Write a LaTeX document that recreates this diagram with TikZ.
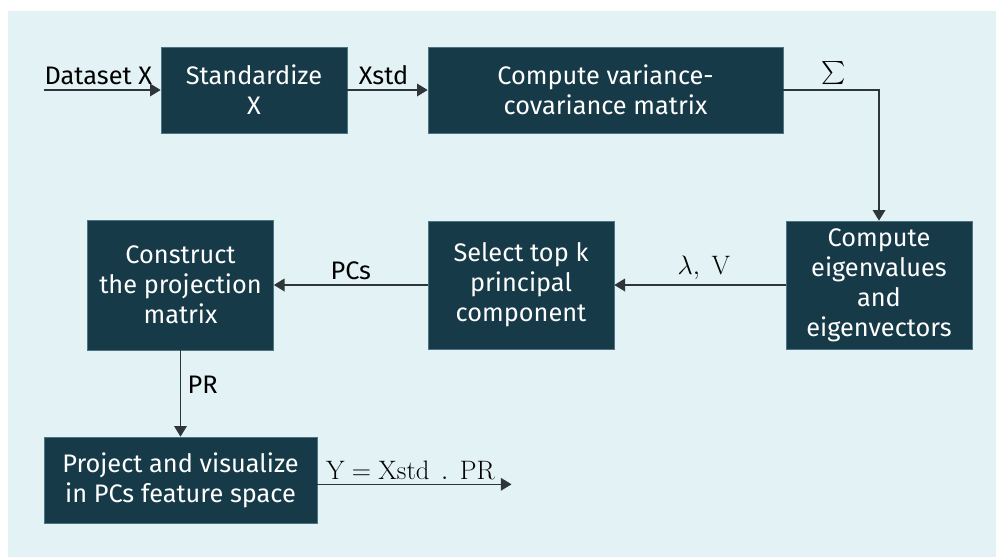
\documentclass[tikz,border=0pt]{standalone}
\usepackage{fix-cm}
\usepackage{exscale}
\usepackage[no-math]{fontspec}
\setmainfont{Fira Sans}
\usetikzlibrary{arrows.meta}
\definecolor{pagebg}{HTML}{E3F2F4}
\definecolor{boxfill}{HTML}{163A48}
\definecolor{boxedge}{HTML}{4D7482}
\definecolor{linec}{HTML}{2E3639}
\tikzset{
  stepbox/.style={fill=boxfill, draw=boxedge, line width=0.5pt, text=white,
    align=center, inner sep=0pt, font=\fontsize{19}{22.5}\selectfont},
  flow/.style={draw=linec, line width=1pt, -{Triangle[length=8pt,width=9.5pt]}},
  lbl/.style={font=\fontsize{19}{22.5}\selectfont, text=black},
  mathlbl/.style={font=\fontsize{20}{24}\selectfont, text=black}
}
\begin{document}
\begin{tikzpicture}[x=0.75pt, y=-0.75pt]
  \useasboundingbox (0,0) rectangle (996,557);
  \fill[pagebg] (8,11) rectangle (996,557);

  % processing steps
  \node[stepbox, minimum width=139.5pt, minimum height=64.5pt] (std) at (254,90)
    {Standardize\\X};
  \node[stepbox, minimum width=266.25pt, minimum height=64.5pt] (cov) at (605.5,90)
    {Compute variance-\\covariance matrix};
  \node[stepbox, minimum width=139.5pt, minimum height=96pt] (eig) at (879,285)
    {Compute\\eigenvalues\\and\\eigenvectors};
  \node[stepbox, minimum width=139.5pt, minimum height=96pt] (sel) at (521,285)
    {Select top k\\principal\\component};
  \node[stepbox, minimum width=139.5pt, minimum height=97.5pt] (con) at (180.5,285)
    {Construct\\the projection\\matrix};
  \node[stepbox, minimum width=204.75pt, minimum height=64.5pt] (proj) at (180.5,480)
    {Project and visualize\\in PCs feature space};

  % free ends of the input and output arrows
  \coordinate (din) at (44,90);
  \coordinate (dout) at (511.5,484.3);

  % connectors
  \draw[flow] (din) -- node[lbl, above, xshift=-3pt] {Dataset X} (std.west);
  \draw[flow] (std.east) -- node[lbl, above, xshift=-3pt] {Xstd} (cov.west);
  \draw[flow] (cov.east) -- node[lbl, above, xshift=2pt] {$\sum$} (eig.north |- cov.east) -- (eig.north);
  \draw[flow] (eig.west) -- node[mathlbl, above, xshift=3pt] {$\mathrm{\lambda,\ V}$} (sel.east);
  \draw[flow] (sel.west) -- node[lbl, above] {PCs} (con.east);
  \draw[flow] (con.south) -- node[lbl, right, pos=0.4, xshift=1.5pt] {PR} (proj.north);
  \draw[flow] (proj.east |- dout) -- node[mathlbl, above, xshift=-3pt] {$\mathrm{Y = Xstd\ \,.\ \,PR}$} (dout);
\end{tikzpicture}
\end{document}
